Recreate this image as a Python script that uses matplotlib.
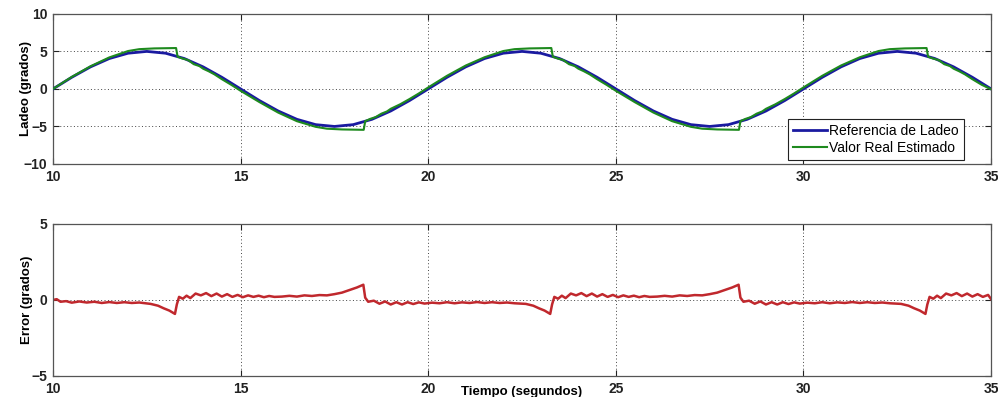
import matplotlib
matplotlib.use("Agg")
import matplotlib.pyplot as plt

plt.rcParams["font.family"] = ["Liberation Sans", "DejaVu Sans"]

# Referencia de ladeo (grados), muestreada cada 0.5 s
t_ref = [10.0, 10.5, 11.0, 11.5, 12.0, 12.5, 13.0, 13.5, 14.0, 14.5,
         15.0, 15.5, 16.0, 16.5, 17.0, 17.5, 18.0, 18.5, 19.0, 19.5,
         20.0, 20.5, 21.0, 21.5, 22.0, 22.5, 23.0, 23.5, 24.0, 24.5,
         25.0, 25.5, 26.0, 26.5, 27.0, 27.5, 28.0, 28.5, 29.0, 29.5,
         30.0, 30.5, 31.0, 31.5, 32.0, 32.5, 33.0, 33.5, 34.0, 34.5, 35.0]
ladeo_ref = [0.0, 1.55, 2.94, 4.05, 4.76, 5.0, 4.76, 4.05, 2.94, 1.55,
             0.0, -1.55, -2.94, -4.05, -4.76, -5.0, -4.76, -4.05, -2.94, -1.55,
             0.0, 1.55, 2.94, 4.05, 4.76, 5.0, 4.76, 4.05, 2.94, 1.55,
             0.0, -1.55, -2.94, -4.05, -4.76, -5.0, -4.76, -4.05, -2.94, -1.55,
             0.0, 1.55, 2.94, 4.05, 4.76, 5.0, 4.76, 4.05, 2.94, 1.55, 0.0]

# Valor real estimado
t_est = [10.0, 10.5, 11.0, 11.5, 12.0, 12.3, 12.7, 13.28, 13.32, 13.45,
         13.6, 13.75, 13.9, 14.0, 14.15, 14.3, 14.5, 14.75, 15.0, 15.5,
         16.0, 16.5, 17.0, 17.3, 17.7, 18.28, 18.32, 18.45, 18.6, 18.75,
         18.9, 19.0, 19.25, 19.5, 19.75, 20.0,
         20.5, 21.0, 21.5, 22.0, 22.3, 22.7, 23.28, 23.32, 23.45,
         23.6, 23.75, 23.9, 24.0, 24.15, 24.3, 24.5, 24.75, 25.0, 25.5,
         26.0, 26.5, 27.0, 27.3, 27.7, 28.28, 28.32, 28.45, 28.6, 28.75,
         28.9, 29.0, 29.25, 29.5, 29.75, 30.0,
         30.5, 31.0, 31.5, 32.0, 32.3, 32.7, 33.28, 33.32, 33.45,
         33.6, 33.75, 33.9, 34.0, 34.15, 34.3, 34.5, 34.75, 35.0]
ladeo_est = [0.0, 1.6, 3.02, 4.2, 5.05, 5.3, 5.4, 5.45, 4.3, 4.05,
             3.85, 3.3, 3.05, 2.7, 2.35, 1.95, 1.3, 0.55, -0.25, -1.75,
             -3.15, -4.3, -5.05, -5.3, -5.4, -5.45, -4.3, -4.0, -3.75, -3.3,
             -3.0, -2.65, -2.05, -1.35, -0.6, 0.2,
             1.75, 3.12, 4.22, 5.05, 5.3, 5.4, 5.45, 4.3, 4.05,
             3.85, 3.3, 3.05, 2.7, 2.35, 1.95, 1.3, 0.55, -0.25, -1.75,
             -3.15, -4.3, -5.05, -5.3, -5.4, -5.45, -4.3, -4.0, -3.75, -3.3,
             -3.0, -2.65, -2.05, -1.35, -0.6, 0.2,
             1.75, 3.12, 4.22, 5.05, 5.3, 5.4, 5.45, 4.3, 4.05,
             3.85, 3.3, 3.05, 2.7, 2.35, 1.95, 1.3, 0.55, -0.05]

# Error (grados)
t_err = [10.0, 10.1, 10.2, 10.35, 10.5, 10.7, 10.9, 11.1, 11.3, 11.5,
         11.7, 11.9, 12.1, 12.3, 12.6, 12.8, 12.95, 13.1, 13.25, 13.3,
         13.36, 13.46, 13.56, 13.66, 13.8, 13.94, 14.08, 14.22, 14.36, 14.5,
         14.64, 14.78, 14.92, 15.06, 15.2, 15.34, 15.48, 15.62, 15.76, 15.9,
         16.1, 16.3, 16.5, 16.7, 16.9, 17.1, 17.3, 17.5, 17.7, 17.9,
         18.1, 18.27, 18.32, 18.4, 18.55, 18.7, 18.85, 19.0, 19.15, 19.3,
         19.45, 19.6, 19.75, 19.9,
         20.1, 20.3, 20.5, 20.7, 20.9, 21.1, 21.3, 21.5, 21.7, 21.9,
         22.1, 22.3, 22.6, 22.8, 22.95, 23.1, 23.25, 23.3,
         23.36, 23.46, 23.56, 23.66, 23.8, 23.94, 24.08, 24.22, 24.36, 24.5,
         24.64, 24.78, 24.92, 25.06, 25.2, 25.34, 25.48, 25.62, 25.76, 25.9,
         26.1, 26.3, 26.5, 26.7, 26.9, 27.1, 27.3, 27.5, 27.7, 27.9,
         28.1, 28.27, 28.32, 28.4, 28.55, 28.7, 28.85, 29.0, 29.15, 29.3,
         29.45, 29.6, 29.75, 29.9,
         30.1, 30.3, 30.5, 30.7, 30.9, 31.1, 31.3, 31.5, 31.7, 31.9,
         32.1, 32.3, 32.6, 32.8, 32.95, 33.1, 33.25, 33.3,
         33.36, 33.46, 33.56, 33.66, 33.8, 33.94, 34.08, 34.22, 34.36, 34.5,
         34.64, 34.78, 34.92, 35.0]
error = [0.0, 0.05, -0.12, -0.08, -0.18, -0.1, -0.17, -0.12, -0.2, -0.14,
         -0.2, -0.15, -0.2, -0.17, -0.26, -0.38, -0.55, -0.7, -0.92, -0.3,
         0.2, 0.08, 0.28, 0.12, 0.42, 0.3, 0.45, 0.25, 0.42, 0.22,
         0.38, 0.2, 0.33, 0.18, 0.3, 0.2, 0.28, 0.18, 0.26, 0.2,
         0.22, 0.27, 0.22, 0.3, 0.26, 0.32, 0.3, 0.38, 0.48, 0.65,
         0.82, 1.0, 0.15, -0.12, -0.05, -0.25, -0.1, -0.3, -0.15, -0.3,
         -0.15, -0.27, -0.16, -0.24,
         -0.18, -0.22, -0.15, -0.22, -0.16, -0.2, -0.14, -0.2, -0.15, -0.2,
         -0.17, -0.22, -0.26, -0.38, -0.55, -0.7, -0.92, -0.3,
         0.2, 0.08, 0.28, 0.12, 0.42, 0.3, 0.45, 0.25, 0.42, 0.22,
         0.38, 0.2, 0.33, 0.18, 0.3, 0.2, 0.28, 0.18, 0.26, 0.2,
         0.22, 0.27, 0.22, 0.3, 0.26, 0.32, 0.3, 0.38, 0.48, 0.65,
         0.82, 1.0, 0.15, -0.12, -0.05, -0.25, -0.1, -0.3, -0.15, -0.3,
         -0.15, -0.27, -0.16, -0.24,
         -0.18, -0.22, -0.15, -0.22, -0.16, -0.2, -0.14, -0.2, -0.15, -0.2,
         -0.17, -0.22, -0.26, -0.38, -0.55, -0.7, -0.92, -0.3,
         0.2, 0.08, 0.28, 0.12, 0.42, 0.3, 0.45, 0.25, 0.42, 0.22,
         0.38, 0.2, 0.33, 0.05]

x_ticks = [10, 15, 20, 25, 30, 35]


def style_axes(ax, yticks):
    ax.set_xlim(10, 35)
    ax.set_xticks(x_ticks)
    ax.set_yticks(yticks)
    ax.tick_params(direction="in", length=4, width=0.8, top=True, right=True,
                   labelsize=10, pad=4, colors="#222222")
    for lab in ax.get_xticklabels() + ax.get_yticklabels():
        lab.set_fontweight("bold")
    for sp in ax.spines.values():
        sp.set_color("#555555")
        sp.set_linewidth(0.9)
    ax.grid(True, color="#444444", linestyle=(0, (1, 2.5)), linewidth=0.7)


fig = plt.figure(figsize=(9.98, 3.97), dpi=100)

ax1 = fig.add_axes([0.0531, 0.587, 0.940, 0.378])
ax1.plot(t_ref, ladeo_ref, color="#1a1aa0", lw=2.0, label="Referencia de Ladeo", zorder=3)
ax1.plot(t_est, ladeo_est, color="#1e8a1e", lw=1.5, label="Valor Real Estimado", zorder=4)
ax1.set_ylim(-10, 10)
style_axes(ax1, [-10, -5, 0, 5, 10])
ax1.set_ylabel("Ladeo (grados)", fontsize=9.5, fontweight="bold")
ax1.yaxis.set_label_coords(-0.029, 0.5)
ax1.yaxis.label.set_verticalalignment("center")
leg = ax1.legend(loc="lower right", bbox_to_anchor=(0.971, 0.027), borderaxespad=0,
                 fancybox=False, edgecolor="#222222", framealpha=1, fontsize=10,
                 handlelength=2.4, handletextpad=0.2, labelspacing=0.25,
                 borderpad=0.35)
leg.get_frame().set_linewidth(0.8)

ax2 = fig.add_axes([0.0531, 0.053, 0.940, 0.383])
ax2.plot(t_err, error, color="#c0282d", lw=1.8)
ax2.set_ylim(-5, 5)
style_axes(ax2, [-5, 0, 5])
ax2.set_ylabel("Error (grados)", fontsize=9.5, fontweight="bold")
ax2.yaxis.set_label_coords(-0.028, 0.5)
ax2.yaxis.label.set_verticalalignment("center")
ax2.set_xlabel("Tiempo (segundos)", fontsize=9.5, fontweight="bold")
ax2.xaxis.set_label_coords(0.5, -0.105)
ax2.xaxis.label.set_verticalalignment("center")

fig.savefig("out.png", dpi=100)
